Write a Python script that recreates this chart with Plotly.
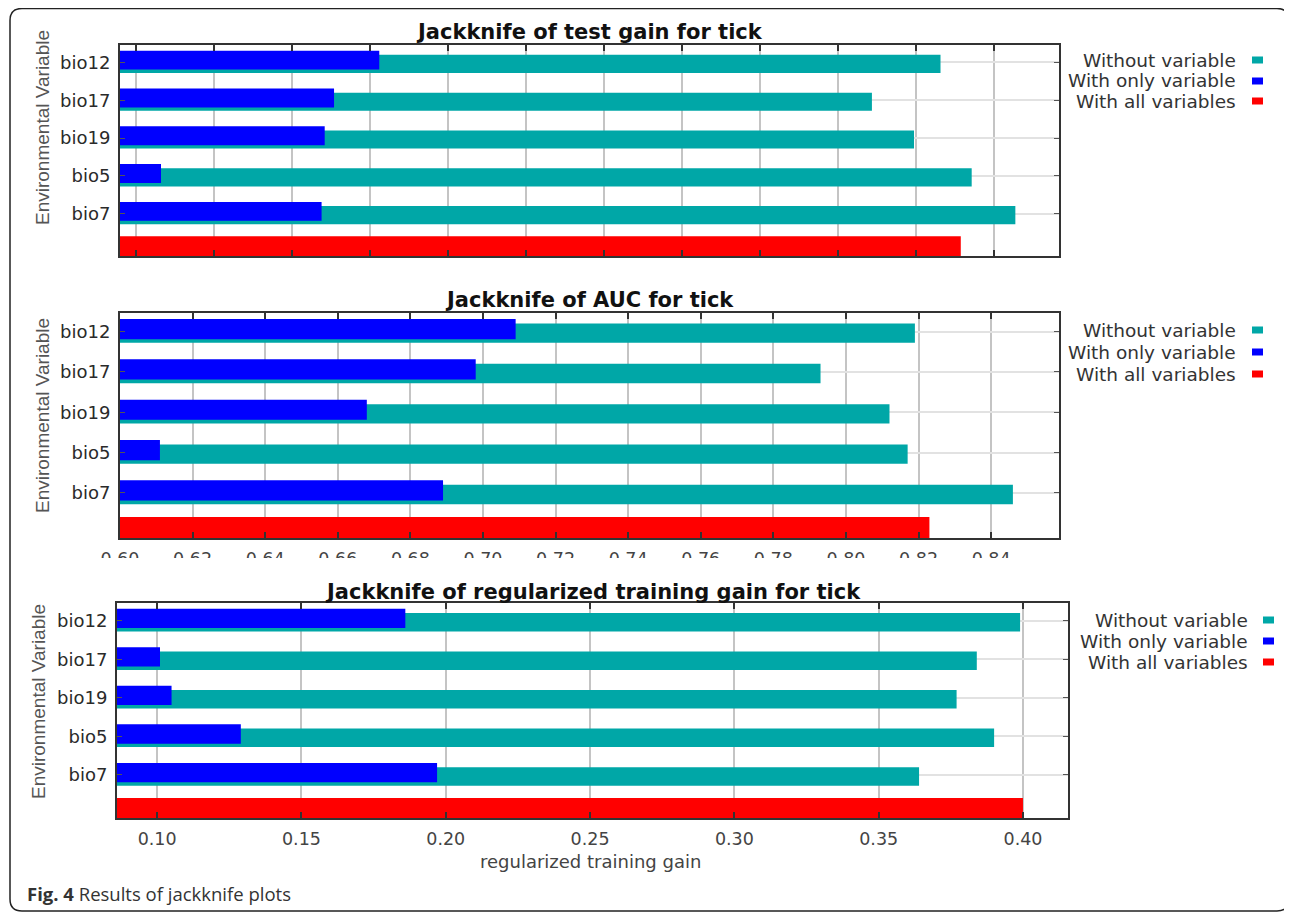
import plotly.graph_objects as go

# page body adds an 8px margin; the figure is sized/positioned so that
# window pixel coordinates match the reference image
W, H = 1292, 913
OFF = 8
FW, FH = W - OFF, H - OFF

# ---------------- data ----------------
variables = ["bio12", "bio17", "bio19", "bio5", "bio7"]

test_without = [0.566, 0.522, 0.549, 0.586, 0.614]
test_only = [0.206, 0.177, 0.171, 0.066, 0.169]
test_all = [0.579]

auc_without = [0.819, 0.793, 0.812, 0.817, 0.846]
auc_only = [0.709, 0.698, 0.668, 0.611, 0.689]
auc_all = [0.823]

train_without = [0.399, 0.384, 0.377, 0.390, 0.364]
train_only = [0.186, 0.101, 0.105, 0.129, 0.197]
train_all = [0.400]

legend_labels = ["Without variable", "With only variable", "With all variables"]
titles = ["Jackknife of test gain for tick",
          "Jackknife of AUC for tick",
          "Jackknife of regularized training gain for tick"]

TEAL = "#00A7A7"
BLUE = "#0000FF"
RED = "#FF0000"
colors = [TEAL, BLUE, RED]


def px(x):
    return (x - OFF) / FW


def py(y):
    return 1 - (y - OFF) / FH


rows = [len(variables) - i for i in range(len(variables))]  # 5..1 top to bottom
all_row = [0]

panels = [
    dict(without=test_without, only=test_only, allv=test_all,
         xr=[0.0397, 0.642], tick0=0.05, dtick=0.05, fmt=".2f",
         xdom=(120, 1059), ydom=(45, 256), showlabels=False,
         title_y=32, ytitle=(42, 128), leg_right=1238, leg_ys=(60, 81, 101), sw_x=1252),
    dict(without=auc_without, only=auc_only, allv=auc_all,
         xr=[0.60, 0.8587], tick0=0.60, dtick=0.02, fmt=".2f",
         xdom=(120, 1059), ydom=(313, 538), showlabels=True,
         title_y=300, ytitle=(42, 416), leg_right=1238, leg_ys=(330, 352, 374), sw_x=1252),
    dict(without=train_without, only=train_only, allv=train_all,
         xr=[0.0861, 0.4156], tick0=0.10, dtick=0.05, fmt=".2f",
         xdom=(117, 1068), ydom=(603, 818), showlabels=True,
         title_y=592, ytitle=(38, 702), leg_right=1250, leg_ys=(620, 641, 662), sw_x=1263),
]

fig = go.Figure()
annotations = []
shapes = []
layout_axes = {}

for k, p in enumerate(panels):
    sfx = "" if k == 0 else str(k + 1)
    xa, ya = "x" + sfx, "y" + sfx
    fig.add_trace(go.Bar(y=rows, x=p["without"], orientation="h", marker_color=TEAL,
                         marker_line_width=0, width=0.48, offset=-0.28,
                         xaxis=xa, yaxis=ya, showlegend=False, name=legend_labels[0]))
    fig.add_trace(go.Bar(y=rows, x=p["only"], orientation="h", marker_color=BLUE,
                         marker_line_width=0, width=0.50, offset=-0.19,
                         xaxis=xa, yaxis=ya, showlegend=False, name=legend_labels[1]))
    fig.add_trace(go.Bar(y=all_row, x=p["allv"], orientation="h", marker_color=RED,
                         marker_line_width=0, width=0.52, offset=-0.12,
                         xaxis=xa, yaxis=ya, showlegend=False, name=legend_labels[2]))

    layout_axes["xaxis" + sfx] = dict(
        domain=[px(p["xdom"][0]), px(p["xdom"][1])], anchor=ya, range=p["xr"],
        tick0=p["tick0"], dtick=p["dtick"], tickformat=p["fmt"],
        showgrid=True, gridcolor="#C4C4C4", gridwidth=1.5,
        showline=True, linecolor="#333333", linewidth=2, mirror="ticks",
        ticks="inside", ticklen=6, tickcolor="#333333", tickwidth=1.5,
        showticklabels=p["showlabels"], ticklabelstandoff=4,
        tickfont=dict(family="DejaVu Sans", size=17.5, color="#444444"),
        zeroline=False, fixedrange=True, automargin=False,
    )
    layout_axes["yaxis" + sfx] = dict(
        domain=[py(p["ydom"][1]), py(p["ydom"][0])], anchor=xa, range=[-0.12, 5.46],
        tickmode="array", tickvals=rows, ticktext=variables,
        showgrid=True, gridcolor="#E2E2E2", gridwidth=2,
        showline=True, linecolor="#333333", linewidth=2, mirror="ticks",
        ticks="inside", ticklen=5, tickcolor="#555555",
        tickfont=dict(family="DejaVu Sans", size=18, color="#2A2A2A"),
        ticklabelstandoff=4, zeroline=False, fixedrange=True, automargin=False,
    )

    # panel title
    annotations.append(dict(text=titles[k], x=px((p["xdom"][0] + p["xdom"][1]) / 2),
                            y=py(p["title_y"]), xref="paper", yref="paper",
                            xanchor="center", yanchor="middle", showarrow=False,
                            font=dict(family="DejaVu Sans", size=21, color="#111111", weight="bold")))
    # y-axis title
    annotations.append(dict(text="Environmental Variable", x=px(p["ytitle"][0]), y=py(p["ytitle"][1]),
                            xref="paper", yref="paper", textangle=-90, showarrow=False,
                            xanchor="center", yanchor="middle",
                            font=dict(family="Liberation Sans Narrow, Liberation Sans", size=19,
                                      color="#555555")))
    # legend (text right-aligned, swatch to the right)
    for j, lab in enumerate(legend_labels):
        annotations.append(dict(text=lab, x=px(p["leg_right"]), y=py(p["leg_ys"][j]),
                                xref="paper", yref="paper", xanchor="right", yanchor="middle",
                                showarrow=False,
                                font=dict(family="DejaVu Sans", size=18.5, color="#333333")))
        shapes.append(dict(type="rect", xref="paper", yref="paper",
                           x0=px(p["sw_x"]), x1=px(p["sw_x"] + 11),
                           y0=py(p["leg_ys"][j] + 3.5), y1=py(p["leg_ys"][j] - 3.5),
                           fillcolor=colors[j], line_width=0))

# x-axis title of bottom panel
annotations.append(dict(text="regularized training gain", x=px(590), y=py(861),
                        xref="paper", yref="paper", xanchor="center", yanchor="middle",
                        showarrow=False, font=dict(family="DejaVu Sans", size=18, color="#444444")))
# caption
annotations.append(dict(text="<b>Fig. 4</b> Results of jackknife plots", x=px(25), y=py(893),
                        xref="paper", yref="paper", xanchor="left", yanchor="middle",
                        showarrow=False, font=dict(family="Open Sans", size=18.5, color="#333333")))

# white strip that hides the lower half of the AUC tick labels (as in the source image)
shapes.append(dict(type="rect", xref="paper", yref="paper", layer="above",
                   x0=px(95), x1=px(1090), y0=py(578), y1=py(558),
                   fillcolor="white", line_width=0))

# rounded outer frame
L, T, R, B, r = 10, 8.5, 1289, 911, 12
path = (f"M {px(L + r)},{py(T)} L {px(R - r)},{py(T)} Q {px(R)},{py(T)} {px(R)},{py(T + r)} "
        f"L {px(R)},{py(B - r)} Q {px(R)},{py(B)} {px(R - r)},{py(B)} "
        f"L {px(L + r)},{py(B)} Q {px(L)},{py(B)} {px(L)},{py(B - r)} "
        f"L {px(L)},{py(T + r)} Q {px(L)},{py(T)} {px(L + r)},{py(T)} Z")
shapes.append(dict(type="path", path=path, xref="paper", yref="paper",
                   line=dict(color="#222222", width=1.5), layer="above"))

fig.update_layout(
    width=FW, height=FH, margin=dict(l=0, r=0, t=0, b=0, pad=0),
    paper_bgcolor="white", plot_bgcolor="white",
    barmode="overlay", showlegend=False,
    annotations=annotations, shapes=shapes,
    **layout_axes,
)

fig.write_html("out.html")
